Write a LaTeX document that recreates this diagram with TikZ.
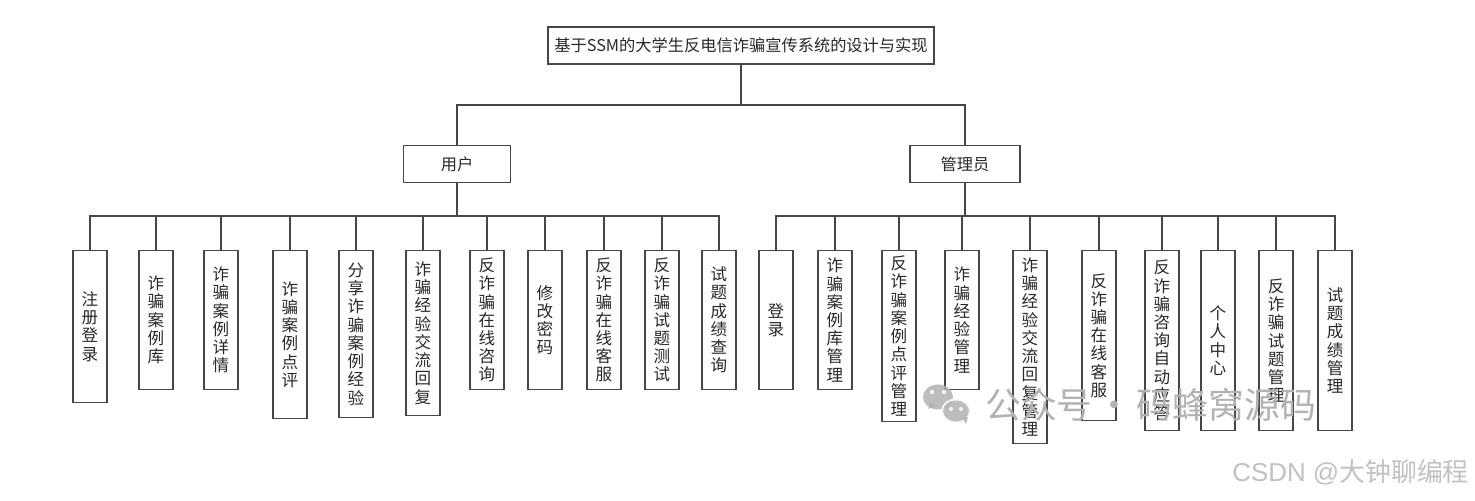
\documentclass[tikz,border=0pt]{standalone}
\usepackage{fontspec}
\newfontfamily\cjk{Noto Sans CJK SC}
\newfontfamily\latinsans{Liberation Sans}
\definecolor{linec}{RGB}{70,70,70}
\definecolor{textc}{RGB}{40,40,40}
\definecolor{wmark}{RGB}{178,178,178}
\begin{document}
\begin{tikzpicture}[x=1bp,y=-1bp,
  every node/.style={text=textc},
  conn/.style={draw=linec,line width=1.1bp},
  topbox/.style={draw=linec,line width=1.1bp,inner sep=0pt,minimum height=37bp,font=\cjk\fontsize{16.3}{18}\selectfont},
  midbox/.style={draw=linec,line width=1.1bp,inner sep=0pt,minimum height=37bp,font=\cjk\fontsize{16.3}{18}\selectfont},
  leaf/.style={draw=linec,line width=1.1bp,inner sep=0pt,minimum width=34bp,minimum height=#1,anchor=north,align=center,font=\cjk\fontsize{16.6}{18.3}\selectfont},
  wm/.style={text=wmark,inner sep=0pt}
]
\fill[white] (0,0) rectangle (1475,501);
\useasboundingbox (0,0) rectangle (1475,501);

% top levels
\node[topbox,minimum width=386bp] (title) at (741,45.5) {基于SSM的大学生反电信诈骗宣传系统的设计与实现};
\node[midbox,minimum width=107bp] (user) at (457,164) {用户};
\node[midbox,minimum width=110bp] (admin) at (965,164) {管理员};

\coordinate (tbus) at (741,105);
\coordinate (ubus) at (457,216);
\coordinate (abus) at (965,216);

% user leaves
\node[leaf=152bp] (u1) at (90,250) {注\\册\\登\\录};
\node[leaf=139bp] (u2) at (156,250) {诈\\骗\\案\\例\\库};
\node[leaf=139bp] (u3) at (221,250) {诈\\骗\\案\\例\\详\\情};
\node[leaf=168bp] (u4) at (290,250) {诈\\骗\\案\\例\\点\\评};
\node[leaf=167bp] (u5) at (356,250) {分\\享\\诈\\骗\\案\\例\\经\\验};
\node[leaf=165bp] (u6) at (423,250) {诈\\骗\\经\\验\\交\\流\\回\\复};
\node[leaf=139bp] (u7) at (487,250) {反\\诈\\骗\\在\\线\\咨\\询};
\node[leaf=139bp] (u8) at (545,250) {修\\改\\密\\码};
\node[leaf=139bp] (u9) at (604,250) {反\\诈\\骗\\在\\线\\客\\服};
\node[leaf=139bp] (u10) at (662,250) {反\\诈\\骗\\试\\题\\测\\试};
\node[leaf=139bp] (u11) at (719,250) {试\\题\\成\\绩\\查\\询};

% admin leaves
\node[leaf=139bp] (a1) at (776,250) {登\\录};
\node[leaf=139bp] (a2) at (835,250) {诈\\骗\\案\\例\\库\\管\\理};
\node[leaf=171bp] (a3) at (899,250) {反\\诈\\骗\\案\\例\\点\\评\\管\\理};
\node[leaf=139bp] (a4) at (962,250) {诈\\骗\\经\\验\\管\\理};
\node[leaf=193bp] (a5) at (1030,250) {诈\\骗\\经\\验\\交\\流\\回\\复\\管\\理};
\node[leaf=170bp] (a6) at (1099,250) {反\\诈\\骗\\在\\线\\客\\服};
\node[leaf=180bp] (a7) at (1162,250) {反\\诈\\骗\\咨\\询\\自\\动\\应\\答};
\node[leaf=180bp] (a8) at (1218,250) {个\\人\\中\\心};
\node[leaf=180bp] (a9) at (1276,250) {反\\诈\\骗\\试\\题\\管\\理};
\node[leaf=180bp] (a10) at (1335,250) {试\\题\\成\\绩\\管\\理};

% connectors
\draw[conn] (title.south) -- (tbus);
\draw[conn] (tbus) -| (user.north);
\draw[conn] (tbus) -| (admin.north);
\draw[conn] (user.south) -- (ubus);
\draw[conn] (admin.south) -- (abus);
\foreach \n in {u1,u2,u3,u4,u5,u6,u7,u8,u9,u10,u11}
  \draw[conn] (ubus) -| (\n.north);
\foreach \n in {a1,a2,a3,a4,a5,a6,a7,a8,a9,a10}
  \draw[conn] (abus) -| (\n.north);

% watermarks
\begin{scope}[opacity=0.85]
\fill[wmark] (938,397) ellipse [x radius=15, y radius=12.5];
\fill[wmark] (928,409) -- (931,402) -- (936,406) -- cycle;
\fill[white] (932,392) circle (2.2);
\fill[white] (944,392) circle (2.2);
\draw[white,line width=2bp,fill=wmark] (956,411) ellipse [x radius=14, y radius=11.5];
\fill[wmark] (966,424) -- (962,418) -- (968,417) -- cycle;
\fill[white] (951,409) circle (2);
\fill[white] (961,409) circle (2);
\end{scope}
\node[wm,anchor=west,font=\cjk\fontsize{36}{40}\selectfont] (wm1) at (985,405) {公众号\makebox[44bp]{·}码蜂窝源码};
\node[wm,anchor=east,text=wmark!80,font=\cjk\fontsize{26}{30}\selectfont] (wm2) at (1469,472) {{\latinsans CSDN @}大钟聊编程};
\end{tikzpicture}
\end{document}
